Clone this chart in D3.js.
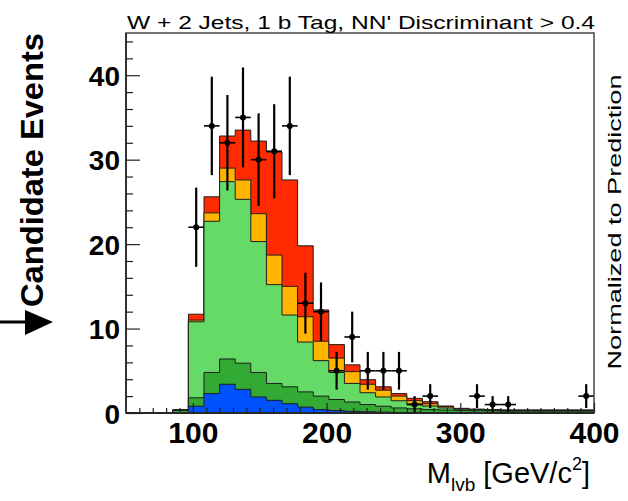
<!DOCTYPE html>
<html>
<head>
<meta charset="utf-8">
<script src="https://cdn.jsdelivr.net/npm/d3@7"></script>
<style>
  html, body { margin: 0; padding: 0; background: #fff; }
  svg { display: block; }
  text { font-family: "Liberation Sans", Arial, Helvetica, sans-serif; }
</style>
</head>
<body>
<svg id="chart" width="628" height="501"></svg>
<script>
// ---- data (30 bins from 50 to 400 GeV/c^2) ----
const xMin = 50, xMax = 400, nBins = 30;
const blue       = [0,0,0,0,   0.8,2.3,3.4,2.8,1.9,1.5,1.1,0.7,0.4,0.3,0.2,0.15,0.1,0.05,0.05,0,   0,0,0,0,0,0,0,0,0,0];
const darkGreen  = [0,0,0,0.3, 1.0,2.5,3.0,3.1,2.9,2.0,2.0,1.8,1.6,1.3,1.1,0.85,0.7,0.55,0.45,0.4, 0.35,0.3,0.28,0.25,0.22,0.22,0.22,0.22,0.22,0.22];
const lightGreen = [0,0,0,0.05,9.0,17.9,21.0,19.4,15.5,11.7,8.5,5.9,4.2,3.2,2.2,1.4,1.1,0.85,0.57,0.43, 0.25,0.15,0.1,0.08,0.08,0.08,0.08,0.08,0.08,0.08];
const orange     = [0,0,0,0,   0.2,1.0,1.6,2.3,3.3,3.5,3.4,3.0,2.3,1.7,1.4,1.0,0.8,0.55,0.39,0.27, 0.15,0.05,0.04,0.03,0.03,0.03,0.03,0.03,0.03,0.03];
const red        = [0,0,0,0.05,0.7,1.9,3.8,5.9,8.6,12.2,12.6,8.4,3.7,1.6,0.8,0.55,0.4,0.3,0.28,0.24, 0.08,0.05,0.04,0.04,0.03,0.03,0.03,0.03,0.03,0.03];
const observed   = [0,0,0,0,   22,34,32,35,30,31,34,13,12,5,9,5,5,5,1,2, 0,0,2,1,1,0,0,0,0,2];
const xTicks = [100, 200, 300, 400];
const yTicks = [0, 10, 20, 30, 40];

const layers = [
  {name: "blue", values: blue, color: "#0052ff"},
  {name: "darkGreen", values: darkGreen, color: "#33aa33"},
  {name: "lightGreen", values: lightGreen, color: "#66da66"},
  {name: "orange", values: orange, color: "#ffb400"},
  {name: "red", values: red, color: "#ff2a00"}
];

// ---- layout ----
const L = 126, R = 594, T = 33, B = 413;
const svg = d3.select("#chart");
const x = d3.scaleLinear().domain([xMin, xMax]).range([L, R]);
const y = d3.scaleLinear().domain([0, 45]).range([B, T]);
const binW = (xMax - xMin) / nBins;

// cumulative stacks
let cum = new Array(nBins).fill(0);
const stacks = layers.map(l => {
  cum = cum.map((c, i) => c + l.values[i]);
  return {color: l.color, tops: cum.slice()};
});

const area = d3.area()
  .curve(d3.curveStepAfter)
  .x(d => x(d.x))
  .y0(y(0))
  .y1(d => y(d.v));

const gHist = svg.append("g");
stacks.slice().reverse().forEach(s => {
  const pts = s.tops.map((v, i) => ({x: xMin + i * binW, v}));
  pts.push({x: xMax, v: s.tops[nBins - 1]});
  gHist.append("path")
    .attr("d", area(pts))
    .attr("fill", s.color)
    .attr("stroke", "#1e1e1e")
    .attr("stroke-width", 1);
});

// ---- data points ----
const gData = svg.append("g");
observed.forEach((n, i) => {
  if (n <= 0) return;
  const c = xMin + (i + 0.5) * binW;
  const e = Math.sqrt(n);
  gData.append("line")
    .attr("x1", x(c)).attr("x2", x(c))
    .attr("y1", y(n + e)).attr("y2", y(Math.max(0, n - e)))
    .attr("stroke", "#000").attr("stroke-width", 2.2);
  gData.append("line")
    .attr("x1", x(c - binW / 2)).attr("x2", x(c + binW / 2))
    .attr("y1", y(n)).attr("y2", y(n))
    .attr("stroke", "#000").attr("stroke-width", 1.6);
  gData.append("circle")
    .attr("cx", x(c)).attr("cy", y(n)).attr("r", 3)
    .attr("fill", "#000");
});

// ---- frame ----
svg.append("rect")
  .attr("x", L).attr("y", T).attr("width", R - L).attr("height", B - T)
  .attr("fill", "none").attr("stroke", "#444").attr("stroke-width", 1.5);

// ---- axes ----
const yMinor = d3.range(0, 46, 2).filter(v => v % 10 !== 0);
svg.append("g").attr("transform", `translate(${L},0)`)
  .call(d3.axisLeft(y).tickValues(yMinor).tickSize(-7).tickFormat(""))
  .call(g => g.select(".domain").remove())
  .selectAll("line").attr("stroke", "#222").attr("stroke-width", 1.2);
const yAx = svg.append("g").attr("transform", `translate(${L},0)`)
  .call(d3.axisLeft(y).tickValues(yTicks).tickSize(-14).tickPadding(6).tickFormat(d3.format("d")));
yAx.select(".domain").remove();
yAx.selectAll("line").attr("stroke", "#222").attr("stroke-width", 1.2);
yAx.selectAll("text")
  .attr("font-family", "Liberation Sans, Arial, sans-serif")
  .attr("font-size", 28).attr("font-weight", "bold").attr("fill", "#000")
  .attr("dy", "0.36em");

const xMinor = d3.range(60, 400, 10).filter(v => v % 100 !== 0);
svg.append("g").attr("transform", `translate(0,${B})`)
  .call(d3.axisBottom(x).tickValues(xMinor).tickSize(-5).tickFormat(""))
  .call(g => g.select(".domain").remove())
  .selectAll("line").attr("stroke", "#222").attr("stroke-width", 1.2);
const xAx = svg.append("g").attr("transform", `translate(0,${B})`)
  .call(d3.axisBottom(x).tickValues(xTicks).tickSize(-10).tickPadding(9).tickFormat(d3.format("d")));
xAx.select(".domain").remove();
xAx.selectAll("line").attr("stroke", "#222").attr("stroke-width", 1.2);
xAx.selectAll("text")
  .attr("font-family", "Liberation Sans, Arial, sans-serif")
  .attr("font-size", 30).attr("font-weight", "bold").attr("fill", "#000");

// left axis line darker
svg.append("line").attr("x1", L).attr("x2", L).attr("y1", T).attr("y2", B)
  .attr("stroke", "#222").attr("stroke-width", 1.6);
svg.append("line").attr("x1", L).attr("x2", R).attr("y1", B).attr("y2", B)
  .attr("stroke", "#222").attr("stroke-width", 1.6);

// ---- texts ----
svg.append("text")
  .attr("x", 127).attr("y", 29)
  .attr("font-size", 19)
  .attr("textLength", 468).attr("lengthAdjust", "spacingAndGlyphs")
  .text("W + 2 Jets, 1 b Tag, NN' Discriminant > 0.4");

svg.append("text")
  .attr("transform", "translate(43,170) rotate(-90)")
  .attr("text-anchor", "middle")
  .attr("font-size", 31).attr("font-weight", "bold")
  .attr("textLength", 274).attr("lengthAdjust", "spacingAndGlyphs")
  .text("Candidate Events");

svg.append("text")
  .attr("transform", "translate(621,222) rotate(-90)")
  .attr("text-anchor", "middle")
  .attr("font-size", 18)
  .attr("textLength", 295).attr("lengthAdjust", "spacingAndGlyphs")
  .text("Normalized to Prediction");

const xt = svg.append("text")
  .attr("x", 590).attr("y", 483)
  .attr("text-anchor", "end")
  .attr("font-size", 29);
xt.append("tspan").text("M");
xt.append("tspan").attr("font-size", 19).attr("dy", 8).text("lvb");
xt.append("tspan").attr("dy", -8).text(" [GeV/c");
xt.append("tspan").attr("font-size", 18).attr("dy", -13).text("2");
xt.append("tspan").attr("dy", 13).text("]");

// arrow on the left
svg.append("line").attr("x1", 0).attr("x2", 27).attr("y1", 322).attr("y2", 322)
  .attr("stroke", "#000").attr("stroke-width", 3);
svg.append("path").attr("d", "M25,310 L53,322 L25,335 Z").attr("fill", "#000");
</script>
</body>
</html>
